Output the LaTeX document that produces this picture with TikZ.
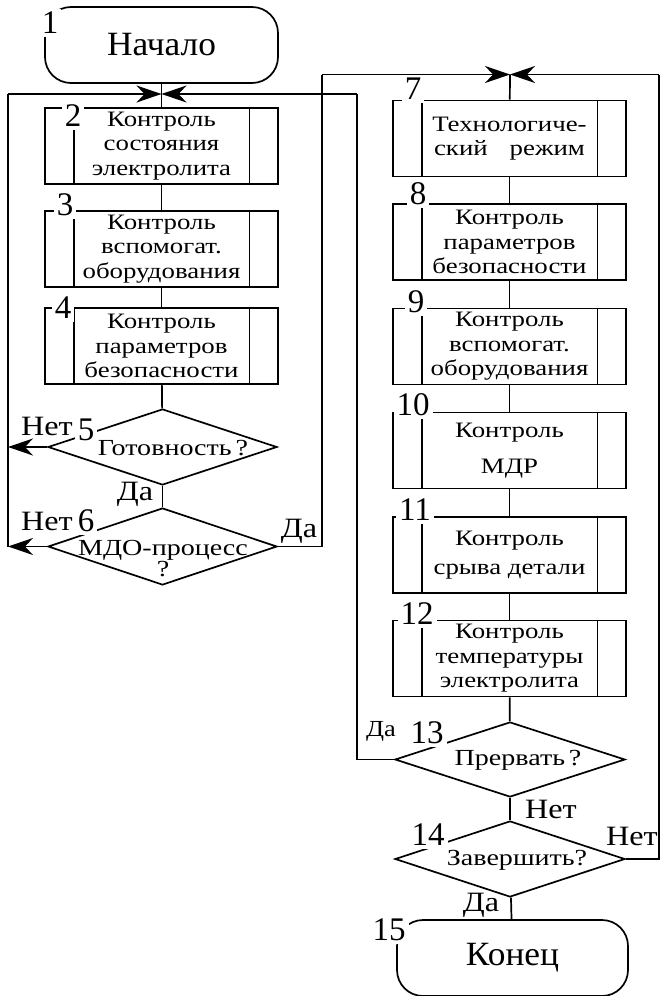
\documentclass[tikz,border=0pt]{standalone}
\usepackage{fontspec}
\setmainfont{Liberation Serif}
\newfontfamily\boxfont[FakeStretch=1.22]{Liberation Serif}
\newfontfamily\lblfont[FakeStretch=1.15]{Liberation Serif}
\newfontfamily\termfont[FakeStretch=1.04]{Liberation Serif}
\usetikzlibrary{arrows.meta,shapes.geometric}

\begin{document}
\begin{tikzpicture}[x=1pt,y=-1pt,line width=1.7pt,
  every node/.style={inner sep=0pt},
  term/.style={draw,rounded corners=26pt,minimum width=233pt,minimum height=76pt,
    font=\termfont\fontsize{34}{36}\selectfont},
  proc/.style={draw,minimum width=233pt,minimum height=76pt,
    font=\boxfont\fontsize{22}{24.5}\selectfont,align=center,
    append after command={
      ([xshift=29.5pt]\tikzlastnode.north west) edge[draw] ([xshift=29.5pt]\tikzlastnode.south west)
      ([xshift=-29.5pt]\tikzlastnode.north east) edge[draw] ([xshift=-29.5pt]\tikzlastnode.south east)}},
  decision/.style={draw,diamond,minimum width=229pt,minimum height=76pt},
  dtext/.style={font=\boxfont\fontsize{23}{25}\selectfont,align=center},
  num/.style={fill=white,inner sep=3pt,font=\fontsize{33}{34}\selectfont},
  lbl/.style={anchor=base,font=\lblfont\fontsize{28}{30}\selectfont},
  arr/.style={-{Stealth[length=25pt,width=17pt,inset=8pt]}}
]
\useasboundingbox (0,0) rectangle (660,996);

% left column
\node[term] (n1) at (161.5,45) {Начало};
\node[proc] (n2) at (161.5,146) {Контроль\\состояния\\электролита};
\node[proc] (n3) at (161.5,249) {Контроль\\вспомогат.\\оборудования};
\node[proc] (n4) at (161.5,346) {Контроль\\параметров\\безопасности};
\node[decision] (n5) at (162.5,447) {};
\node[dtext] (t5) at (173,448) {Готовность\,?};
\node[decision,minimum height=77pt] (n6) at (162.5,546.5) {};
\node[dtext] (t6) at (163,559) {МДО-процесс\\[-4pt]?};

% right column
\node[proc] (n7) at (509.5,138.5) {Технологиче-\\ский\quad режим};
\node[proc] (n8) at (509.5,242) {Контроль\\параметров\\безопасности};
\node[proc] (n9) at (509.5,346.5) {Контроль\\вспомогат.\\оборудования};
\node[proc] (n10) at (509.5,450.5) {Контроль\\[12pt]МДР};
\node[proc] (n11) at (509.5,555) {Контроль\\[4pt]срыва детали};
\node[proc] (n12) at (509.5,658.5) {Контроль\\температуры\\электролита};
\node[decision,minimum width=230pt,minimum height=75pt] (n13) at (510,759.5) {};
\node[dtext] (t13) at (518,760) {Прервать\,?};
\node[decision,minimum width=230pt] (n14) at (510,859) {};
\node[dtext] (t14) at (517,860) {Завершить?};
\node[term,minimum width=231pt] (n15) at (512.5,958) {Конец};

% loop junctions and corners
\coordinate (j1) at (161.5,94);
\coordinate (j2) at (510,74.5);
\coordinate (a1) at (8,94);
\coordinate (a2) at (357,94);
\coordinate (b1) at (322,74.5);
\coordinate (b2) at (659,74.5);

% main flow
\draw (n1) -- (n2);
\draw (n2) -- (n3);
\draw (n3) -- (n4);
\draw (n4) -- (n5);
\draw (n5) -- (n6);
\draw (j2) -- (n7);
\draw (n7) -- (n8);
\draw (n8) -- (n9);
\draw (n9) -- (n10);
\draw (n10) -- (n11);
\draw (n11) -- (n12);
\draw (n12) -- (n13);
\draw (n13) -- (n14);
\draw (n14) -- (n15);

% return lines
\draw (a1) -- (a1 |- n6.west);
\draw[arr] (n5.west) -- (n5.west -| a1);
\draw[arr] (n6.west) -- (n6.west -| a1);
\draw[arr] (a1) -- (j1);
\draw[arr] (a2) -- (j1);
\draw (n13.west) -- (n13.west -| a2) -- (a2);
\draw[arr] (b1) -- (j2);
\draw[arr] (b2) -- (j2);
\draw (n6.east) -- (n6.east -| b1) -- (b1);
\draw (n14.east) -- (n14.east -| b2) -- (b2);

% branch labels
\node[lbl] (l5n) at (47,435) {Нет};
\node[lbl] (l5y) at (135,500) {Да};
\node[lbl] (l6n) at (47,530) {Нет};
\node[lbl] (l6y) at (299,537) {Да};
\node[lbl,font=\lblfont\fontsize{23}{25}\selectfont] (l13y) at (381,736) {Да};
\node[lbl] (l13n) at (551,818) {Нет};
\node[lbl] (l14n) at (632,845) {Нет};
\node[lbl] (l14y) at (481,911) {Да};

% block numbers
\node[num] (k1) at (50,23) {1};
\node[num] (k2) at (73,116) {2};
\node[num] (k3) at (65,205) {3};
\node[num] (k4) at (63,308) {4};
\node[num] (k5) at (86,430) {5};
\node[num] (k6) at (86,521) {6};
\node[num] (k7) at (413,89) {7};
\node[num] (k8) at (418,194) {8};
\node[num] (k9) at (416,302) {9};
\node[num] (k10) at (413,405) {10};
\node[num] (k11) at (415,510) {11};
\node[num] (k12) at (417,614) {12};
\node[num] (k13) at (427,733) {13};
\node[num] (k14) at (428,835) {14};
\node[num] (k15) at (389,930) {15};
\end{tikzpicture}
\end{document}
